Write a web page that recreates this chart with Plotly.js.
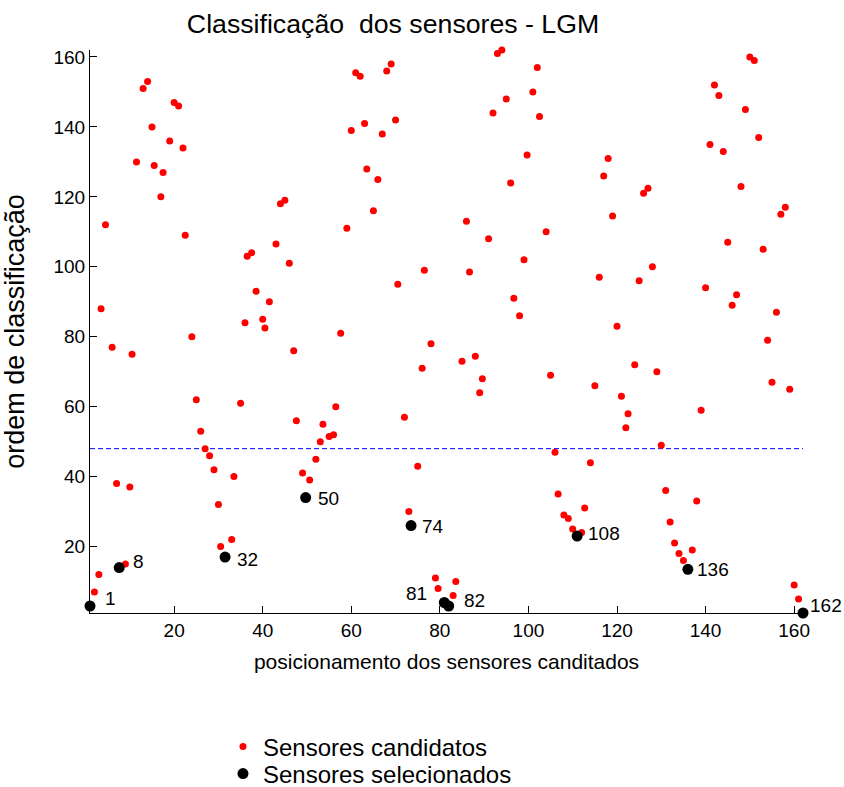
<!DOCTYPE html>
<html>
<head>
<meta charset="utf-8">
<script src="https://cdn.plot.ly/plotly-3.0.1.min.js"></script>
<style>html,body{margin:0;padding:0;background:#fff;}#chart{width:844px;height:787px;}</style>
</head>
<body>
<div id="chart"></div>
<script>
// Candidate sensors: position (x) and classification order (y)
const candX = [2,3,3.5,4.5,6,7,9,10,10.5,11.5,
  13,14,15,15.5,17,17.5,19,20,21,22,
  22.5,24,25,26,27,28,29,30,30.5,33,
  33.5,35,36,36.5,37.5,38.5,40,40.5,41.5,43,
  44,45,46,47,47.6,49,50.6,52,53,53.6,
  55,56,56.5,57.6,59,60,61,62,63,63.5,
  65,66,67,68,69,70,70.5,72,73,75,
  76,76.5,78,79,79.6,83,83.6,85,86,86.7,
  88,89,89.6,91,92,93,94,95,96,96.7,
  98,99,99.7,101,102,102.5,104,105,106,106.7,
  108,109,110,112,112.7,114,115,116,117,118,
  119,120,121,122,122.5,124,125,126,127,128,
  129,130,131,132,133,134,135,137,138,139,
  140,141,142,143,144,145,146,147,148,149,
  150,151,152,153,154,155,156,157,158,159,
  160,161];
const candY = [7,12,88,112,77,38,15,37,75,130,
  151,153,140,129,120,127,136,147,146,134,
  109,80,62,53,48,46,42,32,20,22,
  40,61,84,103,104,93,85,82.5,90,106.5,
  118,119,101,76,56,41,39,45,50,55,
  51.5,52,60,81,111,139,155.5,154.5,141,128,
  116,125,138,156,158,142,95,57,30,43,
  71,99,78,11,8,6,10,73,113,98.5,
  74.4,64,68,108,144,161,162,148,124,91,
  86,102,132,150,157,143,110,69,47,35,
  29,28,25,24,31,44,66,97,126,131,
  114.5,83,63,54,58,72,96,121,122.5,100,
  70,49,36,27,21,18,16,19,33,59,
  94,135,152,149,133,107,89,92,123,145,
  160,159,137,105,79,67,87,115,117,65,
  9,5];

// Selected sensors
const selX = [1,7.6,31.5,49.7,73.5,81,82,111,136,162];
const selY = [3,14,17,34,26,4,3,23,13.5,1];
const selLabels = ['1','8','32','50','74','81','82','108','136','162'];

// Threshold line
const thresholdX = [1,162];
const thresholdY = [48,48];

const xTicks = [20,40,60,80,100,120,140,160];
const yTicks = [20,40,60,80,100,120,140,160];

// label placement styles (pixel offsets from each selected marker)
const labelStyle = [
  {anchor:'left', dx:13, dy:8},
  {anchor:'left', dx:12, dy:6},
  {anchor:'left', dx:10, dy:-2},
  {anchor:'left', dx:10, dy:-1},
  {anchor:'left', dx:9, dy:-1},
  {anchor:'right', dx:-15, dy:9},
  {anchor:'left', dx:13, dy:6},
  {anchor:'left', dx:9, dy:3},
  {anchor:'left', dx:7, dy:0},
  {anchor:'left', dx:5, dy:8}
];

const FONT = 'Liberation Sans, Arial, sans-serif';

const traces = [
  {
    x: thresholdX, y: thresholdY, mode: 'lines', showlegend: false, hoverinfo: 'skip',
    line: {color: '#0000FF', width: 1, dash: '5px,3px'}
  },
  {
    x: candX, y: candY, mode: 'markers', name: 'Sensores candidatos', legend: 'legend',
    marker: {color: '#FF0000', size: 7, symbol: 'circle'}, cliponaxis: false
  },
  {
    x: selX, y: selY, mode: 'markers', name: 'Sensores selecionados', legend: 'legend2',
    marker: {color: '#000000', size: 11, symbol: 'circle'}, cliponaxis: false
  }
];

const annotations = selLabels.map((t, i) => ({
  x: selX[i], y: selY[i], xref: 'x', yref: 'y', text: t, showarrow: false,
  xanchor: labelStyle[i].anchor, yanchor: 'middle',
  xshift: labelStyle[i].dx, yshift: labelStyle[i].dy,
  font: {family: FONT, size: 19, color: '#000'}
}));

const axisCommon = {
  showgrid: false, zeroline: false, showline: true, linecolor: '#000', linewidth: 1,
  mirror: false, ticks: 'inside', ticklen: 7, tickwidth: 1, tickcolor: '#000',
  tickfont: {family: FONT, size: 19, color: '#000'}, automargin: false
};

const legendCommon = {
  xref: 'paper', yref: 'paper', x: 0.1865, xanchor: 'left', yanchor: 'middle',
  bgcolor: 'rgba(0,0,0,0)', borderwidth: 0,
  font: {family: FONT, size: 24, color: '#000'}
};

const layout = {
  width: 844, height: 787,
  margin: {l: 90, r: 41, t: 50, b: 174, autoexpand: false},
  paper_bgcolor: '#fff', plot_bgcolor: '#fff',
  title: {text: 'Classificação  dos sensores - LGM', x: 0.425, xref: 'paper', xanchor: 'center',
          y: 0.9695, yref: 'container', yanchor: 'middle',
          font: {family: FONT, size: 26.7, color: '#000'}},
  xaxis: Object.assign({}, axisCommon, {
    range: [1, 162], tickvals: xTicks,
    title: {text: 'posicionamento dos sensores canditados', standoff: 14,
            font: {family: FONT, size: 21, color: '#000'}}
  }),
  yaxis: Object.assign({}, axisCommon, {
    range: [1, 162], tickvals: yTicks,
    title: {text: 'ordem de classificação', standoff: 21,
            font: {family: FONT, size: 27, color: '#000'}}
  }),
  showlegend: true,
  legend: Object.assign({}, legendCommon, {y: (613 - 747) / 563}),
  legend2: Object.assign({}, legendCommon, {y: (613 - 774) / 563}),
  annotations: annotations
};

Plotly.newPlot('chart', traces, layout, {displayModeBar: false, staticPlot: true});
</script>
</body>
</html>
